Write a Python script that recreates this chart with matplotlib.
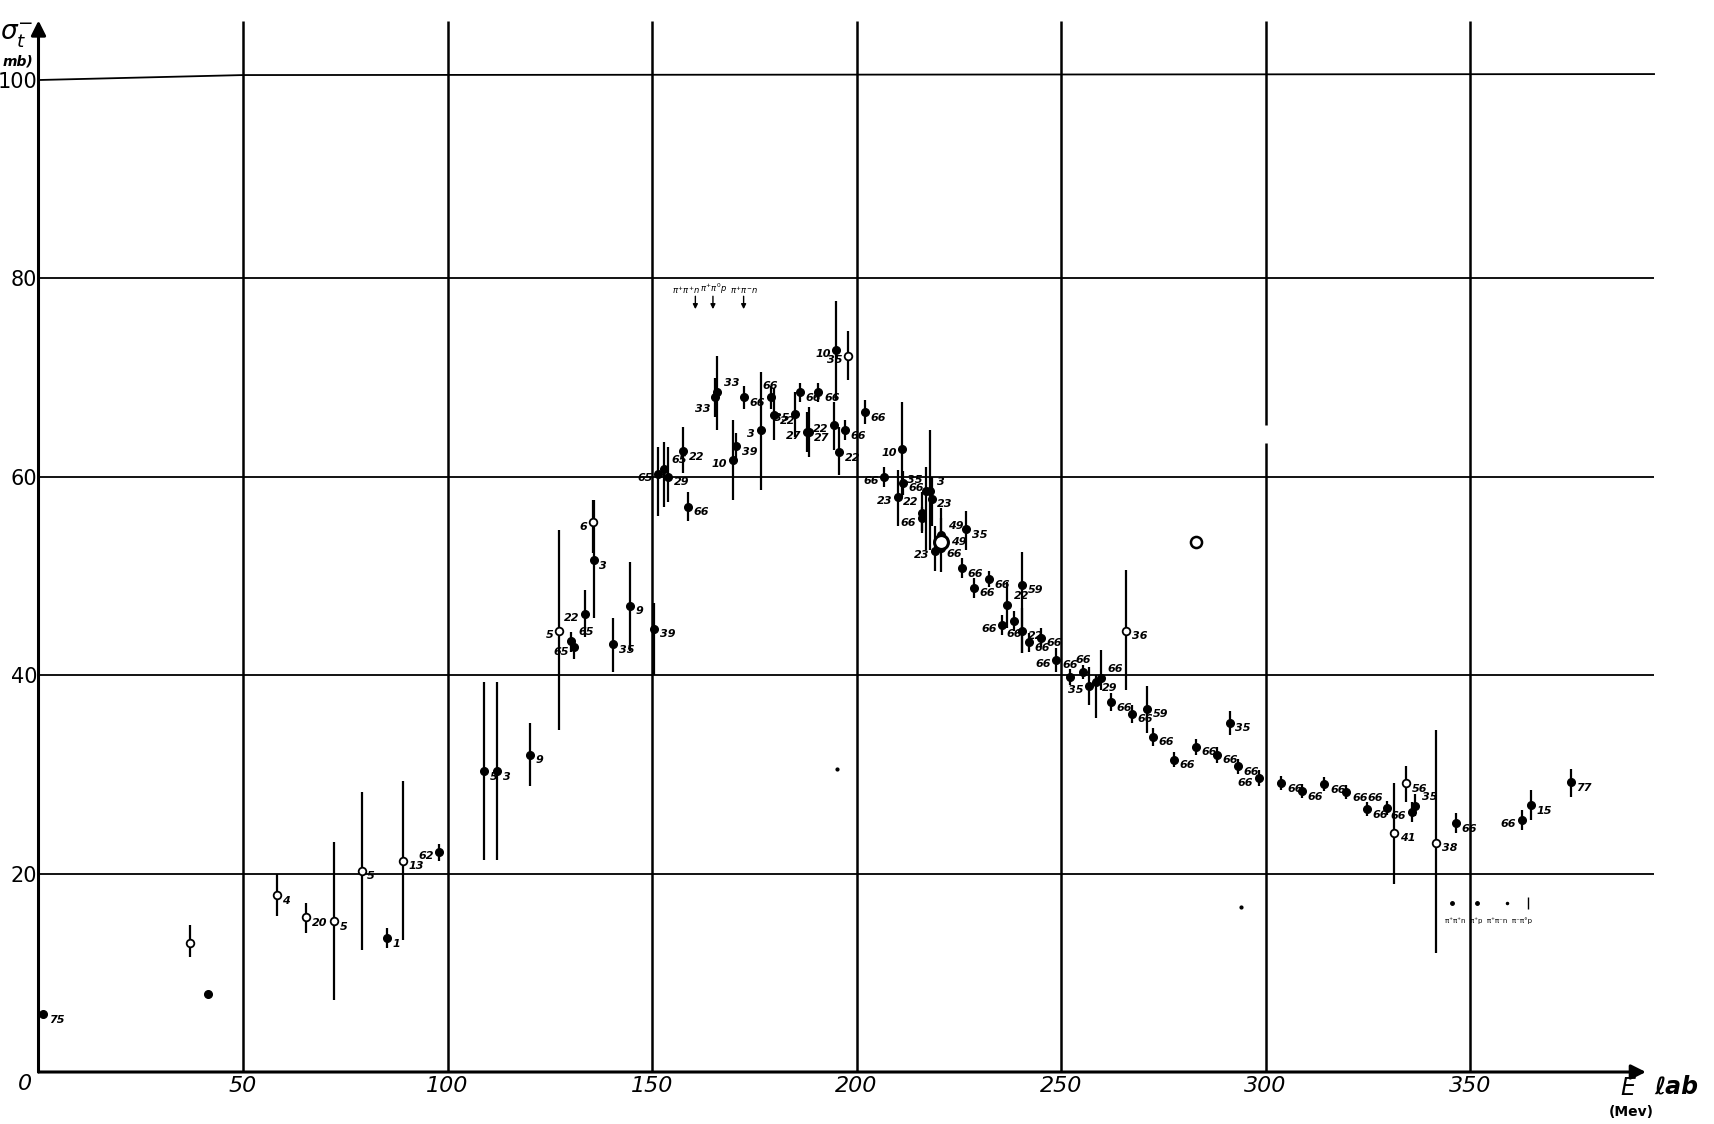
import matplotlib.pyplot as plt
import numpy as np

plt.rcParams['font.family'] = ['DejaVu Sans']

# ---- data: E_lab (MeV), sigma_t (mb), error bar ends ----
energy = [1.2, 37.0, 41.5, 58.3, 65.4, 72.3, 79.0, 85.3, 89.0, 98.0,
          109.0, 112.2, 120.2, 127.3, 130.3, 131.0, 133.7, 135.6, 135.7, 140.5,
          144.6, 150.5, 151.5, 153.0, 154.0, 157.6, 158.8, 165.3, 166.0, 169.7,
          170.6, 172.4, 176.6, 179.0, 179.8, 184.9, 186.1, 187.8, 188.3, 190.7,
          194.6, 195.1, 195.7, 197.1, 198.0, 202.0, 206.8, 210.1, 211.2, 211.3,
          216.1, 216.0, 217.1, 218.0, 218.4, 219.3, 220.7, 220.7, 226.8, 225.8,
          228.8, 232.4, 236.8, 240.5, 235.6, 238.5, 240.5, 242.2, 245.1, 248.8,
          252.2, 255.4, 256.8, 258.6, 259.7, 262.2, 265.9, 267.3, 271.0, 272.4,
          277.6, 282.9, 288.1, 291.2, 293.2, 298.3, 303.9, 309.0, 314.4, 319.8,
          324.9, 329.8, 331.5, 334.4, 335.8, 336.6, 341.7, 346.6, 362.7, 364.8,
          374.6]
sigma = [5.8, 13.0, 7.9, 17.8, 15.6, 15.2, 20.3, 13.5, 21.3, 22.2,
         30.3, 30.3, 32.0, 44.5, 43.4, 42.8, 46.2, 55.4, 51.6, 43.1,
         47.0, 44.7, 60.3, 60.8, 60.0, 62.6, 57.0, 68.0, 68.5, 61.7,
         63.1, 68.0, 64.7, 68.0, 66.2, 66.3, 68.5, 64.5, 64.5, 68.5,
         65.2, 72.8, 62.5, 64.7, 72.2, 66.5, 60.0, 58.0, 62.8, 59.4,
         56.4, 55.8, 58.6, 58.6, 57.8, 52.5, 54.1, 52.8, 54.7, 50.8,
         48.8, 49.7, 47.1, 49.1, 45.1, 45.5, 44.5, 43.3, 43.8, 41.5,
         39.8, 40.3, 38.9, 39.3, 39.7, 37.3, 44.5, 36.1, 36.6, 33.8,
         31.5, 32.8, 32.0, 35.2, 30.8, 29.6, 29.1, 28.3, 29.0, 28.2,
         26.5, 26.6, 24.1, 29.1, 26.2, 26.8, 23.1, 25.1, 25.4, 26.9,
         29.2]
err_low = [5.8, 11.6, 7.9, 15.7, 14.0, 7.3, 12.3, 12.5, 13.3, 21.3,
           21.4, 21.4, 28.8, 34.5, 42.3, 41.6, 43.9, 52.3, 45.8, 40.3,
           42.4, 40.0, 56.0, 57.0, 57.5, 60.4, 55.5, 66.0, 64.7, 57.7,
           61.7, 66.8, 58.7, 66.8, 63.7, 64.0, 67.5, 62.5, 62.0, 67.5,
           62.7, 67.7, 60.2, 63.7, 69.8, 65.3, 59.0, 55.0, 58.0, 58.2,
           54.3, 54.5, 52.6, 52.6, 55.0, 50.5, 52.6, 50.4, 52.6, 49.8,
           47.8, 48.9, 44.8, 42.2, 44.1, 44.5, 42.2, 42.3, 42.8, 40.3,
           39.0, 39.6, 37.0, 35.7, 38.5, 36.4, 38.5, 35.2, 34.2, 32.9,
           30.7, 32.0, 31.2, 34.0, 30.0, 28.8, 28.4, 27.6, 28.3, 27.5,
           25.8, 25.9, 19.0, 27.2, 25.2, 25.8, 12.0, 24.1, 24.4, 25.4,
           27.7]
err_high = [5.8, 14.8, 7.9, 20.0, 17.0, 23.2, 28.2, 14.5, 29.3, 23.0,
            39.3, 39.3, 35.2, 54.6, 44.4, 43.6, 48.6, 57.7, 57.7, 45.8,
            51.4, 47.3, 63.0, 63.5, 63.0, 65.0, 58.5, 70.0, 72.2, 65.7,
            64.4, 69.2, 70.6, 69.2, 69.0, 68.6, 69.5, 66.5, 67.0, 69.5,
            67.5, 77.7, 65.0, 65.7, 74.7, 67.7, 61.0, 60.7, 67.5, 60.6,
            58.5, 57.0, 61.0, 64.7, 60.0, 55.0, 56.9, 55.8, 56.6, 51.8,
            49.8, 50.5, 49.4, 52.4, 46.1, 46.5, 46.8, 44.3, 44.8, 42.7,
            40.6, 41.0, 40.8, 40.0, 42.5, 38.2, 50.6, 37.0, 38.9, 34.7,
            32.3, 33.6, 32.8, 36.4, 31.6, 30.4, 29.8, 29.0, 29.7, 28.9,
            27.2, 27.3, 29.1, 30.8, 27.2, 28.0, 34.5, 26.1, 26.4, 28.4,
            30.5]
open_point = [0, 1, 0, 1, 1, 1, 1, 0, 1, 0,
              0, 0, 0, 1, 0, 0, 0, 1, 0, 0,
              0, 0, 0, 0, 0, 0, 0, 0, 0, 0,
              0, 0, 0, 0, 0, 0, 0, 0, 0, 0,
              0, 0, 0, 0, 1, 0, 0, 0, 0, 0,
              0, 0, 0, 0, 0, 0, 0, 0, 0, 0,
              0, 0, 0, 0, 0, 0, 0, 0, 0, 0,
              0, 0, 0, 0, 0, 0, 1, 0, 0, 0,
              0, 0, 0, 0, 0, 0, 0, 0, 0, 0,
              0, 0, 1, 1, 0, 0, 1, 0, 0, 0,
              0]
ref_label = ['75', '', '', '4', '20', '5', '5', '1', '13', '62',
             '5', '3', '9', '5', '65', '65', '22', '6', '3', '35',
             '9', '39', '65', '65', '29', '22', '66', '33', '33', '10',
             '39', '66', '3', '66', '22', '35', '66', '27', '27', '66',
             '22', '10', '22', '66', '35', '66', '66', '23', '10', '66',
             '22', '66', '35', '3', '23', '23', '49', '66', '35', '66',
             '66', '66', '22', '59', '66', '66', '22', '66', '66', '66',
             '66', '66', '35', '29', '66', '66', '36', '66', '59', '66',
             '66', '66', '66', '35', '66', '66', '66', '66', '66', '66',
             '66', '66', '41', '56', '66', '35', '38', '66', '66', '15',
             '77']
label_side = ['r', 'r', 'r', 'r', 'r', 'r', 'r', 'r', 'r', 'l',
              'r', 'r', 'r', 'l', 'ur', 'l', 'l', 'l', 'r', 'r',
              'r', 'r', 'l', 'ur', 'r', 'r', 'r', 'dl', 'ur', 'l',
              'r', 'r', 'l', 'u', 'r', 'l', 'r', 'l', 'r', 'r',
              'l', 'l', 'r', 'r', 'l', 'r', 'l', 'l', 'l', 'r',
              'ul', 'l', 'ul', 'ur', 'r', 'l', 'ur', 'r', 'r', 'r',
              'r', 'r', 'ur', 'r', 'l', 'd', 'r', 'r', 'r', 'l',
              'u', 'u', 'l', 'r', 'ur', 'r', 'r', 'r', 'r', 'r',
              'r', 'r', 'r', 'r', 'r', 'l', 'r', 'r', 'r', 'r',
              'r', 'ul', 'r', 'r', 'l', 'ur', 'r', 'r', 'l', 'r',
              'r']

# large open circle in the 220 MeV cluster
big_ring_E, big_ring_sigma, big_ring_label = 220.7, 53.4, '49'

# threshold arrows at the top
thresh_E = [160.6, 164.9, 172.4]
thresh_text_E = [158.4, 165.0, 172.4]
thresh_text = [r'$\pi^{+}\pi^{+}n$', r'$\pi^{+}\pi^{0}p$', r'$\pi^{+}\pi^{-}n$']
# little key under the 20 mb line on the right
key_E = [345.6, 351.7, 359.0, 364.1]
key_text = 'π⁺π⁺n  π⁺p  π⁺π⁻n  π⁻π°p'

grid_x = [50, 100, 150, 200, 250, 300, 350]
grid_y = [20, 40, 60, 80, 100]

fig = plt.figure(figsize=(17.14, 11.24), dpi=100)
ax = fig.add_axes([38.5 / 1714, 52 / 1124, 1636 / 1714, 1051.5 / 1124])
ax.set_xlim(0, 400)
ax.set_ylim(0, 106)
for s in ax.spines.values():
    s.set_visible(False)

# grid drawn by hand on the original
ax.hlines(grid_y[:-1], 0, 395, color='black', lw=1.3)
ax.plot([0, 50, 395], [100, 100.5, 100.6], color='black', lw=1.3)
for gx in grid_x:
    if gx == 300:
        ax.vlines(gx, 0, 63.4, color='black', lw=1.8)
        ax.vlines(gx, 65.2, 106, color='black', lw=1.8)
    else:
        ax.vlines(gx, 0, 106, color='black', lw=1.8)

# axes with arrows
ax.annotate('', xy=(393, 0), xytext=(0, 0),
            arrowprops=dict(arrowstyle='-|>', lw=2.2, color='black', mutation_scale=22,
                            shrinkA=0, shrinkB=0), annotation_clip=False)
ax.annotate('', xy=(0, 106), xytext=(0, 0),
            arrowprops=dict(arrowstyle='-|>', lw=2.2, color='black', mutation_scale=22,
                            shrinkA=0, shrinkB=0), annotation_clip=False)

ax.set_xticks(grid_x)
ax.set_xticklabels([str(v) for v in grid_x], fontstyle='italic', fontsize=16)
ax.set_yticks(grid_y)
ax.set_yticklabels([str(v) for v in grid_y], fontsize=15)
ax.tick_params(axis='x', length=0, pad=3)
ax.tick_params(axis='y', length=0, pad=1)
ax.text(-1.5, -1.2, '0', fontsize=16, fontstyle='italic', ha='right', va='center', clip_on=False)

# error bars and points
E = np.array(energy)
S = np.array(sigma)
is_open = np.array(open_point, dtype=bool)
ax.vlines(E, err_low, err_high, color='black', lw=1.6)
ax.plot(E[~is_open], S[~is_open], 'o', color='black', ms=5.5, zorder=4)
ax.plot(E[is_open], S[is_open], 'o', mfc='white', mec='black', mew=1.3, ms=5.5, zorder=4)
ax.plot([big_ring_E], [big_ring_sigma], 'o', mfc='white', mec='black', mew=2.2, ms=10, zorder=5)

offsets = {'r': ((4, -4), 'left', 'center'),
           'l': ((-4, -3), 'right', 'center'),
           'u': ((0, 5), 'center', 'bottom'),
           'd': ((0, -6), 'center', 'top'),
           'ul': ((-3, 4), 'right', 'bottom'),
           'ur': ((5, 3), 'left', 'bottom'),
           'dl': ((-3, -5), 'right', 'top')}
for x, y, lab, side in zip(energy, sigma, ref_label, label_side):
    if not lab:
        continue
    off, ha, va = offsets[side]
    ax.annotate(lab, (x, y), xytext=off, textcoords='offset points', ha=ha, va=va,
                fontsize=8, fontstyle='italic', fontweight='bold')
ax.annotate(big_ring_label, (big_ring_E, big_ring_sigma), xytext=(7, 0),
            textcoords='offset points', ha='left', va='center',
            fontsize=8, fontstyle='italic', fontweight='bold')

# threshold markers
for x, xt, t in zip(thresh_E, thresh_text_E, thresh_text):
    ax.text(xt, 78.2, t, fontsize=6, ha='center', va='bottom')
    ax.annotate('', xy=(x, 76.9), xytext=(x, 78.2),
                arrowprops=dict(arrowstyle='-|>', lw=1, color='black', mutation_scale=7,
                                shrinkA=0, shrinkB=0))
ax.plot(key_E[:2], [17.0, 17.0], 'o', color='black', ms=2.5)
ax.plot([key_E[2]], [17.0], 'o', color='black', ms=1.5)
ax.vlines(key_E[3], 16.4, 17.6, color='black', lw=1)
ax.text(354.5, 15.3, key_text, fontsize=5, ha='center', va='center')

# stray marks on the sheet
ax.plot([283.0], [53.4], 'o', mfc='white', mec='black', mew=1.8, ms=8)
ax.plot([294.0, 195.3], [16.6, 30.5], 'o', color='black', ms=2)

# axis titles
ax.text(-1.2, 104.6, r'$\sigma_t^{-}$', fontsize=19, ha='right', va='center', clip_on=False)
ax.text(-1.2, 101.9, 'mb)', fontsize=10, fontstyle='italic', fontweight='bold',
        ha='right', va='center', clip_on=False)
ax.text(388.5, -1.6, 'E', fontsize=17, fontstyle='italic', ha='center', va='center', clip_on=False)
ax.text(400.5, -1.5, 'ℓab', fontsize=17, fontstyle='italic', fontweight='bold',
        ha='center', va='center', clip_on=False)
ax.text(389.5, -4.0, '(Mev)', fontsize=10, fontweight='bold', ha='center', va='center',
        clip_on=False)

fig.savefig('out.png', dpi=100, facecolor='white')
